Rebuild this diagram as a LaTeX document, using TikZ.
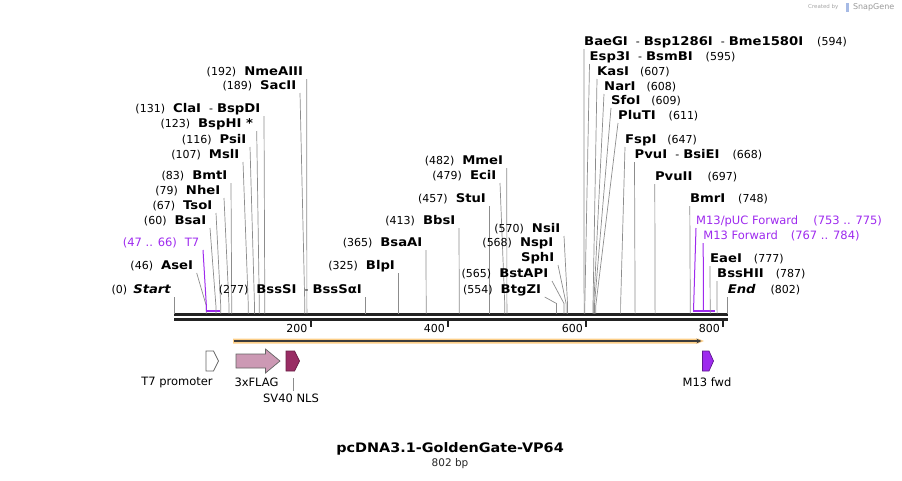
\documentclass[tikz,border=0pt]{standalone}
\usepackage{fontspec}
\setmainfont{DejaVu Sans}
\newfontfamily\namefont{DejaVu Sans}[FakeStretch=1.1]
\usetikzlibrary{arrows.meta}

\definecolor{cutgray}{RGB}{140,140,140}
\definecolor{axisblack}{RGB}{34,34,34}
\definecolor{primerpurple}{RGB}{158,42,238}
\definecolor{flagpink}{RGB}{204,153,180}
\definecolor{nlsred}{RGB}{153,45,100}
\definecolor{orfband}{RGB}{252,206,135}
\definecolor{orfline}{RGB}{60,60,60}
\definecolor{featgray}{RGB}{100,100,100}

\newcommand{\enz}[1]{{\namefont\bfseries\fontsize{12}{13}\selectfont #1}}
\newcommand{\dash}{\hspace{8pt}-\hspace{4pt}}

\tikzset{
    sitelbl/.style={inner ysep=1.5pt, text height=8pt, text depth=2pt, font=\fontsize{11}{12}\selectfont},
    leftsite/.style={sitelbl, anchor=south east, inner xsep=3.5pt},
    rightsite/.style={sitelbl, anchor=south west, inner xsep=0pt},
    primerlbl/.style={text=primerpurple, font=\fontsize{11.5}{13}\selectfont},
    cut/.style={draw=cutgray, line width=0.7pt},
    primercut/.style={draw=primerpurple, line width=1pt},
    primerbar/.style={draw=primerpurple, line width=2pt},
    axis/.style={draw=axisblack, line width=2.5pt},
    tick/.style={draw=axisblack, line width=2pt},
    ticklbl/.style={anchor=east, inner sep=0pt, font=\fontsize{11}{12}\selectfont},
    feature/.style={draw=featgray, line width=0.7pt},
    featlbl/.style={inner sep=0pt, font=\fontsize{11.5}{13}\selectfont}
}

\begin{document}
\begin{tikzpicture}[x=1pt, y=-1pt]
    \useasboundingbox (0,0) rectangle (902,480);

    % Sequence axis and ticks
    \draw [axis] (174,314.5) -- (728,314.5);
    \draw [axis] (174,319.3) -- (728,319.3);
    \draw [tick] (310.8,319) -- (310.8,327);
    \draw [tick] (448.3,319) -- (448.3,327);
    \draw [tick] (586.3,319) -- (586.3,327);
    \draw [tick] (723.4,319) -- (723.4,327);
    \node [ticklbl] (t200) at (307.5,328) {200};
    \node [ticklbl] (t400) at (445,328) {400};
    \node [ticklbl] (t600) at (583,328) {600};
    \node [ticklbl] (t800) at (720,328) {800};

    % Sites left of their cut
    \coordinate (start-cut) at (174.5,313.5);
    \node [leftsite] (start) at (174.5,297) {(0)\hspace{6pt}\enz{\itshape Start}};
    \draw [cut] (start.south east) -- (start-cut);

    \coordinate (asei-cut) at (206.2,313.5);
    \node [leftsite] (asei) at (196.7,273) {(46)\hspace{8pt}\enz{AseI}};
    \draw [cut] (asei.south east) -- ([yshift=8pt]asei-cut) -- (asei-cut);

    \coordinate (t7-cut) at (206.4,310.5);
    \coordinate (t7-end) at (219.5,310.5);
    \node [leftsite, primerlbl] (t7) at (203,250) {(47 .. 66)\hspace{8pt}T7};
    \draw [primercut] (t7.south east) -- ([yshift=4pt]t7-cut) -- (t7-cut);
    \draw [primerbar] ([xshift=-0.5pt]t7-cut) -- (t7-end);

    \coordinate (bsai-cut) at (215.9,313.5);
    \node [leftsite] (bsai) at (210,228) {(60)\hspace{8pt}\enz{BsaI}};
    \draw [cut] (bsai.south east) -- ([yshift=8pt]bsai-cut) -- (bsai-cut);

    \coordinate (tsoi-cut) at (220.7,313.5);
    \node [leftsite] (tsoi) at (216,213) {(67)\hspace{8pt}\enz{TsoI}};
    \draw [cut] (tsoi.south east) -- ([yshift=8pt]tsoi-cut) -- (tsoi-cut);

    \coordinate (nhei-cut) at (229,313.5);
    \node [leftsite] (nhei) at (224,198) {(79)\hspace{8pt}\enz{NheI}};
    \draw [cut] (nhei.south east) -- ([yshift=8pt]nhei-cut) -- (nhei-cut);

    \coordinate (bmti-cut) at (231.7,313.5);
    \node [leftsite] (bmti) at (231,183) {(83)\hspace{8pt}\enz{BmtI}};
    \draw [cut] (bmti.south east) -- ([yshift=8pt]bmti-cut) -- (bmti-cut);

    \coordinate (msli-cut) at (248.3,313.5);
    \node [leftsite] (msli) at (243,162) {(107)\hspace{8pt}\enz{MslI}};
    \draw [cut] (msli.south east) -- ([yshift=8pt]msli-cut) -- (msli-cut);

    \coordinate (psii-cut) at (254.5,313.5);
    \node [leftsite] (psii) at (250,147) {(116)\hspace{8pt}\enz{PsiI}};
    \draw [cut] (psii.south east) -- ([yshift=8pt]psii-cut) -- (psii-cut);

    \coordinate (bsphi-cut) at (259.3,313.5);
    \node [leftsite] (bsphi) at (256.7,131) {(123)\hspace{8pt}\enz{BspHI *}};
    \draw [cut] (bsphi.south east) -- ([yshift=8pt]bsphi-cut) -- (bsphi-cut);

    \coordinate (clai-cut) at (264.8,313.5);
    \node [leftsite] (clai) at (264,116) {(131)\hspace{8pt}\enz{ClaI}\dash\enz{BspDI}};
    \draw [cut] (clai.south east) -- ([yshift=8pt]clai-cut) -- (clai-cut);

    \coordinate (sacii-cut) at (304.8,313.5);
    \node [leftsite] (sacii) at (300,93) {(189)\hspace{8pt}\enz{SacII}};
    \draw [cut] (sacii.south east) -- ([yshift=8pt]sacii-cut) -- (sacii-cut);

    \coordinate (nmeaiii-cut) at (306.9,313.5);
    \node [leftsite] (nmeaiii) at (306.7,79) {(192)\hspace{8pt}\enz{NmeAIII}};
    \draw [cut] (nmeaiii.south east) -- (nmeaiii-cut);

    \coordinate (bsssi-cut) at (365.5,313.5);
    \node [leftsite] (bsssi) at (365.5,297) {(277)\hspace{8pt}\enz{BssSI}\dash\enz{BssSαI}};
    \draw [cut] (bsssi.south east) -- (bsssi-cut);

    \coordinate (blpi-cut) at (398.6,313.5);
    \node [leftsite] (blpi) at (398.6,273) {(325)\hspace{8pt}\enz{BlpI}};
    \draw [cut] (blpi.south east) -- (blpi-cut);

    \coordinate (bsaai-cut) at (426.2,313.5);
    \node [leftsite] (bsaai) at (426,250) {(365)\hspace{8pt}\enz{BsaAI}};
    \draw [cut] (bsaai.south east) -- (bsaai-cut);

    \coordinate (bbsi-cut) at (459.3,313.5);
    \node [leftsite] (bbsi) at (459,228) {(413)\hspace{8pt}\enz{BbsI}};
    \draw [cut] (bbsi.south east) -- (bbsi-cut);

    \coordinate (stui-cut) at (489.6,313.5);
    \node [leftsite] (stui) at (489.6,206) {(457)\hspace{8pt}\enz{StuI}};
    \draw [cut] (stui.south east) -- (stui-cut);

    \coordinate (ecii-cut) at (504.8,313.5);
    \node [leftsite] (ecii) at (500,183) {(479)\hspace{8pt}\enz{EciI}};
    \draw [cut] (ecii.south east) -- ([yshift=8pt]ecii-cut) -- (ecii-cut);

    \coordinate (mmei-cut) at (506.9,313.5);
    \node [leftsite] (mmei) at (506.8,168) {(482)\hspace{8pt}\enz{MmeI}};
    \draw [cut] (mmei.south east) -- (mmei-cut);

    \coordinate (btgzi-cut) at (556.5,313.5);
    \node [leftsite] (btgzi) at (544.7,297) {(554)\hspace{8pt}\enz{BtgZI}};
    \draw [cut] (btgzi.south east) -- ([yshift=10pt]btgzi-cut) -- (btgzi-cut);

    \coordinate (bstapi-cut) at (564,313.5);
    \node [leftsite] (bstapi) at (552,281) {(565)\hspace{8pt}\enz{BstAPI}};
    \draw [cut] (bstapi.south east) -- ([yshift=10pt]bstapi-cut) -- (bstapi-cut);

    \coordinate (sphi-cut) at (566.1,313.5);
    \node [leftsite] (nspi) at (557,250.5) {(568)\hspace{8pt}\enz{NspI}};
    \node [leftsite] (sphi) at (558,265) {\enz{SphI}};
    \draw [cut] (sphi.south east) -- ([yshift=10pt]sphi-cut) -- (sphi-cut);

    \coordinate (nsii-cut) at (567.5,313.5);
    \node [leftsite] (nsii) at (564,236) {(570)\hspace{8pt}\enz{NsiI}};
    \draw [cut] (nsii.south east) -- ([yshift=10pt]nsii-cut) -- (nsii-cut);

    % Sites right of their cut
    \coordinate (baegi-cut) at (584.1,313.5);
    \node [rightsite] (baegi) at (584,49) {\enz{BaeGI}\dash\enz{Bsp1286I}\dash\enz{Bme1580I}\hspace{14pt}(594)};
    \draw [cut] (baegi.south west) -- (baegi-cut);

    \coordinate (esp3i-cut) at (584.8,313.5);
    \node [rightsite] (esp3i) at (589.5,64) {\enz{Esp3I}\dash\enz{BsmBI}\hspace{13pt}(595)};
    \draw [cut] (esp3i.south west) -- ([yshift=8pt]esp3i-cut) -- (esp3i-cut);

    \coordinate (kasi-cut) at (593,313.5);
    \node [rightsite] (kasi) at (597,79) {\enz{KasI}\hspace{11pt}(607)};
    \draw [cut] (kasi.south west) -- ([yshift=8pt]kasi-cut) -- (kasi-cut);

    \coordinate (nari-cut) at (593.7,313.5);
    \node [rightsite] (nari) at (604,94) {\enz{NarI}\hspace{11pt}(608)};
    \draw [cut] (nari.south west) -- ([yshift=8pt]nari-cut) -- (nari-cut);

    \coordinate (sfoi-cut) at (594.4,313.5);
    \node [rightsite] (sfoi) at (611,108) {\enz{SfoI}\hspace{11pt}(609)};
    \draw [cut] (sfoi.south west) -- ([yshift=8pt]sfoi-cut) -- (sfoi-cut);

    \coordinate (pluti-cut) at (595.8,313.5);
    \node [rightsite] (pluti) at (618,123) {\enz{PluTI}\hspace{13pt}(611)};
    \draw [cut] (pluti.south west) -- ([yshift=8pt]pluti-cut) -- (pluti-cut);

    \coordinate (fspi-cut) at (620.6,313.5);
    \node [rightsite] (fspi) at (625,147) {\enz{FspI}\hspace{11pt}(647)};
    \draw [cut] (fspi.south west) -- ([yshift=8pt]fspi-cut) -- (fspi-cut);

    \coordinate (pvui-cut) at (635.1,313.5);
    \node [rightsite] (pvui) at (634.5,162) {\enz{PvuI}\dash\enz{BsiEI}\hspace{13pt}(668)};
    \draw [cut] (pvui.south west) -- (pvui-cut);

    \coordinate (pvuii-cut) at (655.1,313.5);
    \node [rightsite] (pvuii) at (654.8,184) {\enz{PvuII}\hspace{15pt}(697)};
    \draw [cut] (pvuii.south west) -- (pvuii-cut);

    \coordinate (bmri-cut) at (690.3,313.5);
    \node [rightsite] (bmri) at (689.8,206) {\enz{BmrI}\hspace{13pt}(748)};
    \draw [cut] (bmri.south west) -- (bmri-cut);

    \coordinate (m13puc-cut) at (693.7,310.5);
    \node [rightsite, primerlbl] (m13puc) at (696,228) {M13/pUC Forward\hspace{15pt}(753 .. 775)};
    \draw [primercut] (m13puc.south west) -- ([yshift=6pt]m13puc-cut) -- (m13puc-cut);

    \coordinate (m13fwd-cut) at (703.4,310.5);
    \coordinate (m13fwd-end) at (714.5,310.5);
    \node [rightsite, primerlbl] (m13fwd) at (703.2,243) {M13 Forward\hspace{13pt}(767 .. 784)};
    \draw [primercut] (m13fwd.south west) -- (m13fwd-cut);
    \draw [primerbar] ([xshift=-0.5pt]m13puc-cut) -- (m13fwd-end);

    \coordinate (eaei-cut) at (710.2,313.5);
    \node [rightsite] (eaei) at (710,266) {\enz{EaeI}\hspace{12pt}(777)};
    \draw [cut] (eaei.south west) -- (eaei-cut);

    \coordinate (bsshii-cut) at (717.1,313.5);
    \node [rightsite] (bsshii) at (717,281) {\enz{BssHII}\hspace{12pt}(787)};
    \draw [cut] (bsshii.south west) -- (bsshii-cut);

    \coordinate (end-cut) at (727.6,313.5);
    \node [rightsite] (end) at (727.6,297) {\enz{\itshape End}\hspace{15pt}(802)};
    \draw [cut] (end.south west) -- (end-cut);

    % Open reading frame
    \fill [orfband] (233,338.5) -- (698,338.5) -- (704,341) -- (698,343.5) -- (233,343.5) -- cycle;
    \draw [orfline, line width=1.4pt, -{Stealth[length=5pt,width=4.5pt]}] (234,341) -- (701.5,341);

    % Features
    \draw [feature, fill=white] (206,351) -- (213.5,351) -- (218.5,361) -- (213.5,371) -- (206,371) -- cycle;
    \draw [feature, fill=flagpink] (236,354) -- (265.5,354) -- (265.5,349) -- (280,361) -- (265.5,373) -- (265.5,368) -- (236,368) -- cycle;
    \draw [feature, draw=nlsred!70!black, fill=nlsred] (286,351) -- (294.5,351) -- (299.5,361) -- (294.5,371) -- (286,371) -- cycle;
    \draw [feature, draw=primerpurple!60!black, fill=primerpurple] (702.5,351) -- (709,351) -- (713.5,361) -- (709,371) -- (702.5,371) -- cycle;
    \coordinate (sv40-base) at (293.3,378);

    \node [featlbl] (t7prom) at (177,382.5) {T7 promoter};
    \node [featlbl] (flag) at (256.5,382.5) {3xFLAG};
    \node [featlbl] (sv40) at (291,398.5) {SV40 NLS};
    \node [featlbl] (m13lbl) at (707,382.5) {M13 fwd};
    \draw [cut, line width=0.5pt] (sv40-base) -- ([yshift=2.5pt]sv40.north -| sv40-base);

    % Title
    \node [font=\namefont\bfseries\fontsize{13.1}{15}\selectfont] (title) at (450,449) {pcDNA3.1-GoldenGate-VP64};
    \node [font=\fontsize{10.5}{12}\selectfont, text=black!85] (length) at (450,464) {802 bp};

    % Watermark
    \node [font=\fontsize{5.5}{7}\selectfont, text=black!35, anchor=east] (made) at (842,7) {Created by};
    \fill [cyan!45!blue!35] (845.5,2.5) rectangle (848.5,11.5);
    \node [font=\fontsize{8}{9}\selectfont, text=black!40, anchor=west] (snapgene) at (849.5,7) {SnapGene};
\end{tikzpicture}
\end{document}
